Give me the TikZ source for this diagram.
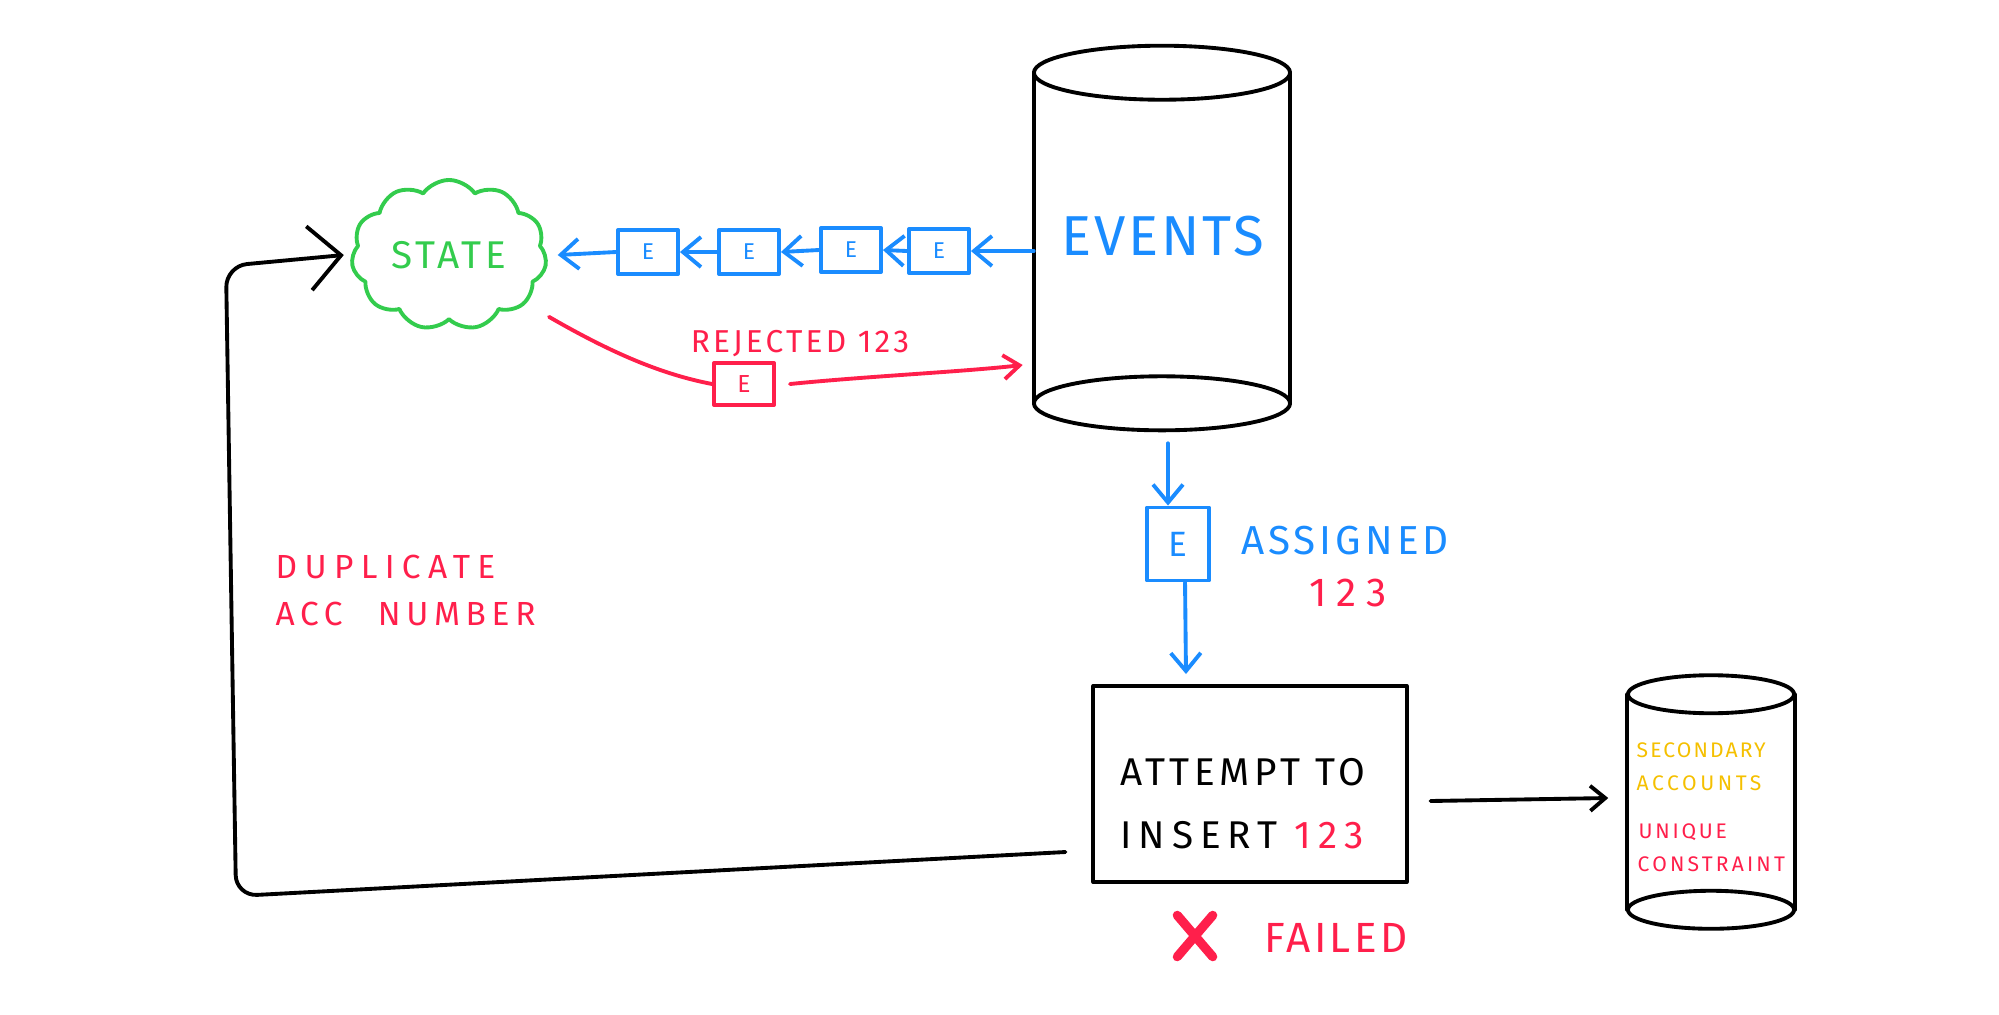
\documentclass[tikz,border=0pt]{standalone}
\usepackage{fontspec}
\setmainfont{Fira Sans}
\usetikzlibrary{arrows.meta,shapes.symbols,calc}
\definecolor{hblue}{HTML}{1A8CFF}
\definecolor{hgreen}{HTML}{33CC4D}
\definecolor{hred}{HTML}{FF1F4B}
\definecolor{hyellow}{HTML}{F5C000}
\newcommand{\lsp}[2]{{\addfontfeature{LetterSpace=#1}#2}}
\newcommand{\fsz}[1]{\fontsize{#1}{#1}\selectfont}
\begin{document}
\begin{tikzpicture}[x=0.01cm,y=-0.01cm,
  ink/.style={line width=1.1pt,line cap=round,line join=round},
  ebox/.style={draw=hblue,ink,minimum width=0.6cm,minimum height=0.44cm,inner sep=0pt,text=hblue,font=\fsz{6.5}},
  bluearrow/.style={hblue,ink,-{Straight Barb[length=1.8mm,width=3mm,line width=1.1pt]}},
  txt/.style={inner sep=0pt,anchor=center}]
\useasboundingbox[fill=white] (0,0) rectangle (1999,1014);

% events cylinder
\node[minimum width=2.55cm,minimum height=3.29cm,inner sep=0pt] (events) at (1162,238) {};
\draw[ink] (events.north west) -- (events.south west);
\draw[ink] (events.north east) -- (events.south east);
\draw[ink] (events.north) ellipse [x radius=1.28cm,y radius=0.27cm];
\draw[ink] (events.south) ellipse [x radius=1.28cm,y radius=0.27cm];
\node[txt,text=hblue,font=\fsz{16}] (evtxt) at (1163,236) {\lsp{5}{EVENTS}};

% state cloud
\node[cloud,draw=hgreen,ink,cloud puffs=11,cloud puff arc=110,aspect=1.3,minimum width=1.95cm,minimum height=1.5cm,inner sep=0pt,text=hgreen,font=\fsz{11}] (state) at (449,255) {\lsp{10}{STATE}};

% event boxes
\node[ebox] (b1) at (648,252) {E};
\node[ebox] (b2) at (749,252) {E};
\node[ebox] (b3) at (851,250) {E};
\node[ebox] (b4) at (939,251) {E};
\draw[bluearrow] (events.west |- b4.east) -- (b4.east);
\draw[bluearrow] (b4.west) -- (b3.east);
\draw[bluearrow] (b3.west) -- (b2.east);
\draw[bluearrow] (b2.west) -- (b1.east);
\draw[bluearrow] (b1.west) -- ([xshift=3pt]state.east);

% rejected
\node[draw=hred,ink,minimum width=0.6cm,minimum height=0.42cm,inner sep=0pt,text=hred,font=\fsz{7}] (rej) at (744,384) {E};
\node[txt,text=hred,font=\fsz{9}] (rejtxt) at (800,344) {\lsp{10}{REJECTED 123}};
\draw[hred,ink] ([shift={(30,8)}]state.south east) .. controls (610,352) and (660,374) .. (rej.west);
\draw[hred,ink,-{Straight Barb[length=1.6mm,width=2.4mm,line width=1.1pt]}] ([xshift=4pt]rej.east) .. controls (870,376) and (960,372) .. ($(events.west)+(-11,127)$);

% assigned
\node[draw=hblue,ink,minimum width=0.62cm,minimum height=0.73cm,inner sep=0pt,text=hblue,font=\fsz{10}] (asg) at (1178,544) {E};
\coordinate (asgstart) at ($(events.south)+(6,40)$);
\draw[bluearrow] (asgstart) -- (asgstart |- asg.north);
\node[txt,text=hblue,font=\fsz{11.5}] (asgtxt) at (1345,541) {\lsp{10}{ASSIGNED}};
\node[txt,text=hred,font=\fsz{11.5}] (asgnum) at (1348,593) {\lsp{25}{123}};

% attempt box
\node[draw,ink,minimum width=3.13cm,minimum height=1.96cm,inner sep=0pt] (attempt) at (1250,784) {};
\draw[bluearrow] ([xshift=2pt]asg.south) -- ([shift={(8,-10)}]asg.south |- attempt.north);
\node[txt,align=left,font=\fsz{11}] (atttxt) at (1243,804) {\lsp{12}{ATTEMPT TO}\\[7pt]\lsp{18}{INSERT \textcolor{hred}{123}}};

% failed
\node[txt,text=hred,font=\fsz{12}] (failtxt) at (1336,938) {\lsp{8}{FAILED}};
\node[minimum width=0.34cm,minimum height=0.4cm,inner sep=0pt] (cross) at (1195,936) {};
\draw[hred,line width=2.6pt,line cap=round] (cross.north west) -- (cross.south east);
\draw[hred,line width=2.6pt,line cap=round] (cross.north east) -- (cross.south west);

% secondary cylinder
\node[minimum width=1.66cm,minimum height=2.14cm,inner sep=0pt] (sec) at (1711,802) {};
\draw[ink] (sec.north west) -- (sec.south west);
\draw[ink] (sec.north east) -- (sec.south east);
\draw[ink] (sec.north) ellipse [x radius=0.83cm,y radius=0.19cm];
\draw[ink] (sec.south) ellipse [x radius=0.83cm,y radius=0.19cm];
\node[txt,text=hyellow,font=\fsz{6},anchor=west] (sectxt1) at (1636,750) {\lsp{10}{SECONDARY}};
\node[txt,text=hyellow,font=\fsz{6},anchor=west] (sectxt2) at (1636,783) {\lsp{17}{ACCOUNTS}};
\node[txt,text=hred,font=\fsz{6},anchor=west] (sectxt3) at (1638,832) {\lsp{13}{UNIQUE}};
\node[txt,text=hred,font=\fsz{6},anchor=west] (sectxt4) at (1637,864) {\lsp{15}{CONSTRAINT}};
\draw[ink,-{Straight Barb[length=1.5mm,width=2.5mm,line width=1.1pt]}] ($(attempt.east)+(22,17)$) -- ($(sec.west)+(-19,-4)$);

% duplicate loop
\node[txt,text=hred,font=\fsz{9.5},align=left,anchor=north west] (duptxt) at (275,554) {\lsp{22}{DUPLICATE}\\[4pt]\lsp{17}{ACC\hspace{10pt}NUMBER}};
\coordinate (loopstart) at ($(attempt.west)+(-26,68)$);
\draw[ink,rounded corners=6pt,-{Straight Barb[length=3.2mm,width=6.4mm,line width=1.1pt]}] (loopstart) -- (236,896) -- (226,266) -- ([xshift=-2pt]state.west);
\end{tikzpicture}
\end{document}
